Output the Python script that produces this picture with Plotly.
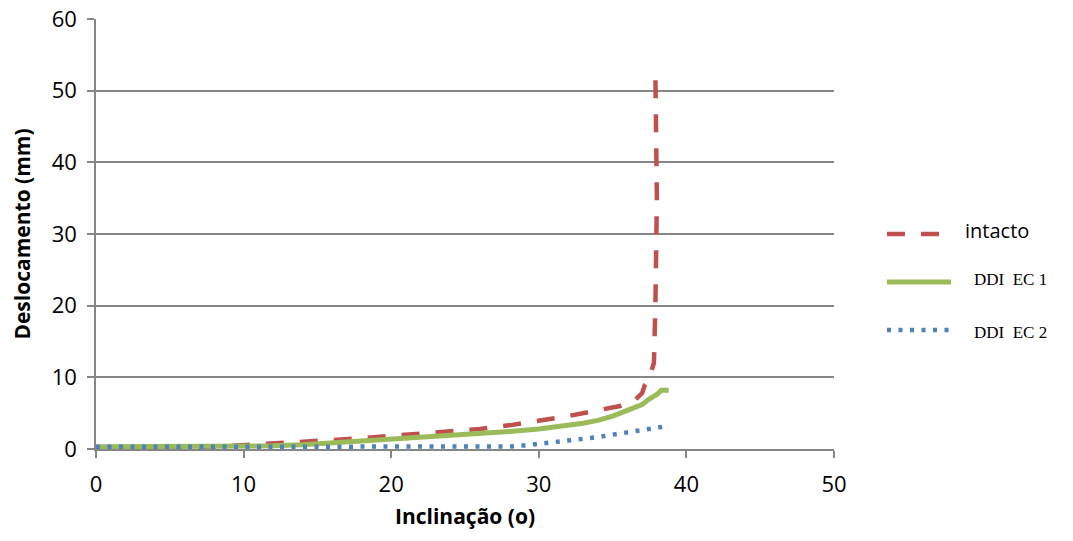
import plotly.graph_objects as go

# Inclinação (graus) vs deslocamento (mm) para cada ensaio
intacto_x = [0, 1, 2, 3, 4, 6, 8, 10, 12, 14, 16, 18, 20, 22, 24, 26, 28, 30, 32, 34,
             35.5, 36.5, 37.0, 37.2, 37.5, 37.8, 37.9, 38.0, 37.9]
intacto_y = [0.0, 0.0, 0.0, 0.05, 0.1, 0.15, 0.3, 0.5, 0.75, 1.0, 1.25, 1.5, 1.8, 2.1,
             2.4, 2.8, 3.3, 3.9, 4.6, 5.4, 6.0, 6.8, 7.8, 9.0, 10.0, 12.0, 20.0, 35.0, 52.0]

ec1_x = [0, 5, 10, 12, 14, 16, 18, 20, 22, 24, 26, 28, 30, 32, 33, 34, 35, 36, 37,
         37.5, 38.0, 38.3, 38.8]
ec1_y = [0.3, 0.3, 0.3, 0.45, 0.6, 0.85, 1.1, 1.3, 1.55, 1.8, 2.1, 2.45, 2.8, 3.3, 3.6,
         4.0, 4.6, 5.4, 6.2, 7.0, 7.6, 8.2, 8.2]

ec2_x = [0, 5, 10, 15, 20, 25, 27, 28, 29, 30, 31, 32, 33, 34, 35, 36, 37, 38.4]
ec2_y = [0.3, 0.3, 0.3, 0.3, 0.3, 0.3, 0.3, 0.35, 0.5, 0.7, 0.9, 1.1, 1.35, 1.65, 2.0,
         2.3, 2.6, 3.1]

RED = "#c0504d"
GREEN = "#9bbb59"
BLUE = "#4f81bd"
GRID = "#868686"

fig = go.Figure()
fig.add_trace(go.Scatter(x=intacto_x, y=intacto_y, mode="lines", showlegend=False,
                         line=dict(color=RED, width=4.5, dash="18px,16px")))
fig.add_trace(go.Scatter(x=ec1_x, y=ec1_y, mode="lines", showlegend=False,
                         line=dict(color=GREEN, width=5)))
fig.add_trace(go.Scatter(x=ec2_x, y=ec2_y, mode="lines", showlegend=False,
                         line=dict(color=BLUE, width=4.5, dash="4px,7.5px")))

# Legenda desenhada à direita da área do gráfico
legend_items = [
    ("intacto", RED, "18px,16px", 234, 231, "Open Sans", 20, 963),
    ("DDI\u00a0 EC 1", GREEN, "solid", 282, 279, "Liberation Serif", 17, 972),
    ("DDI\u00a0 EC 2", BLUE, "4px,7.5px", 330, 333, "Liberation Serif", 17, 972),
]
W, H = 1073, 541
shapes = []
annotations = []
for name, col, dash, ly, ty, fam, fs, tx in legend_items:
    shapes.append(dict(type="line", xref="paper", yref="paper",
                       x0=(887 - 96) / 738, x1=(951 - 96) / 738,
                       y0=(449 - ly) / 430, y1=(449 - ly) / 430,
                       line=dict(color=col, width=5 if dash == "solid" else 4.5, dash=dash)))
    annotations.append(dict(text=name, xref="paper", yref="paper",
                            x=(tx - 96) / 738, y=(449 - ty) / 430,
                            xanchor="left", yanchor="middle", showarrow=False,
                            font=dict(family=fam, size=fs, color="#000000")))

fig.update_layout(
    width=W, height=H,
    margin=dict(l=96, r=W - 834, t=19, b=H - 449, autoexpand=False),
    paper_bgcolor="white", plot_bgcolor="white",
    font=dict(family="Open Sans", size=22, color="#000000"),
    shapes=shapes, annotations=annotations,
    xaxis=dict(range=[0, 50], dtick=10, showgrid=False, zeroline=False,
               showline=True, linecolor=GRID, linewidth=1.5, automargin=False,
               ticks="outside", ticklen=7, tickcolor=GRID, tickwidth=1.5,
               tickfont=dict(size=22), ticklabelstandoff=8,
               title=dict(text="<b>Inclinação (o)</b>", font=dict(size=21), standoff=12)),
    yaxis=dict(range=[0, 60], dtick=10, showgrid=True, gridcolor=GRID, gridwidth=1.5,
               zeroline=False, showline=True, linecolor=GRID, linewidth=1.5, automargin=False,
               ticks="outside", ticklen=7, tickcolor=GRID, tickwidth=1.5,
               tickfont=dict(size=22), ticklabelstandoff=6,
               title=dict(text="<b>Deslocamento (mm)</b>", font=dict(size=21), standoff=15)),
)

fig.write_html("out.html")
